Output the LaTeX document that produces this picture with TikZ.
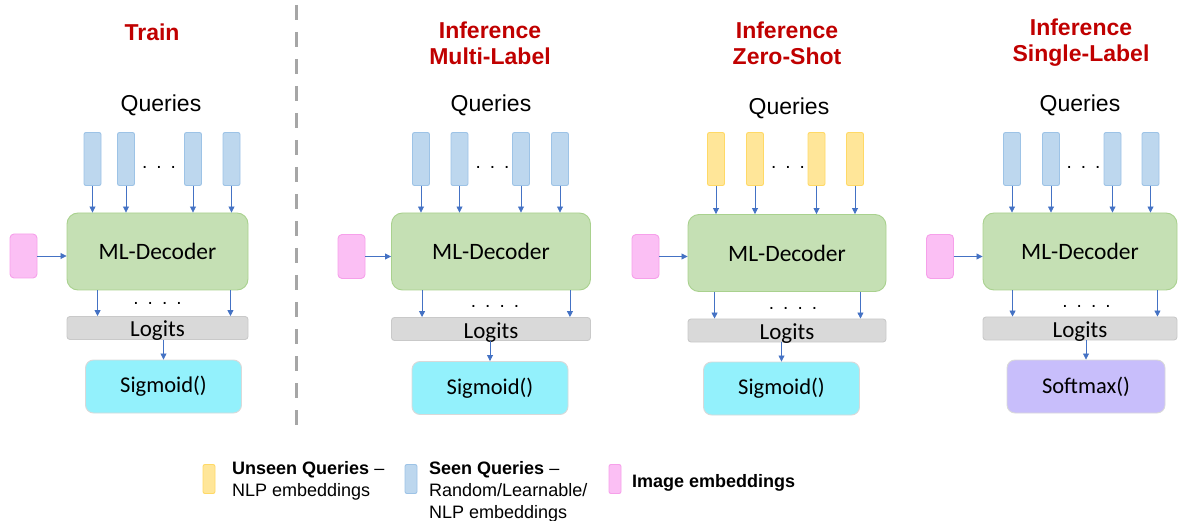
\documentclass[tikz,border=0pt]{standalone}
\usepackage{fontspec}
\setmainfont{Liberation Sans}
\newfontfamily\calfont{Carlito}
\usetikzlibrary{arrows.meta,positioning}
\definecolor{mlred}{HTML}{C00000}
\definecolor{mlarrow}{HTML}{4472C4}
\definecolor{qblue}{HTML}{BDD7EE}
\definecolor{qblueline}{HTML}{9DC3E6}
\definecolor{qyellow}{HTML}{FFE699}
\definecolor{qyellowline}{HTML}{FFD966}
\definecolor{decfill}{HTML}{C5E0B4}
\definecolor{decline}{HTML}{A9D18E}
\definecolor{embfill}{HTML}{FBBFF4}
\definecolor{embline}{HTML}{F6A0EA}
\definecolor{logfill}{HTML}{D9D9D9}
\definecolor{logline}{HTML}{C9C9C9}
\definecolor{sigfill}{HTML}{93F1FC}
\definecolor{softfill}{HTML}{C8BEFB}
\definecolor{actline}{HTML}{D9D9D9}
\definecolor{sepgray}{HTML}{A6A6A6}

\begin{document}
\begin{tikzpicture}[
    x=1pt, y=-1pt,
    qbox/.style={rectangle, rounded corners=2pt, minimum width=17pt,
                 minimum height=53pt, inner sep=0pt, line width=0.9pt},
    seen/.style={qbox, draw=qblueline, fill=qblue},
    unseen/.style={qbox, draw=qyellowline, fill=qyellow},
    emb/.style={rectangle, rounded corners=4pt, minimum width=27pt,
                minimum height=44pt, inner sep=0pt, line width=0.9pt,
                draw=embline, fill=embfill},
    dec/.style={rectangle, rounded corners=11pt, minimum height=77pt,
                inner sep=0pt, line width=0.9pt, draw=decline, fill=decfill,
                font=\fontsize{23.5}{28}\calfont},
    logit/.style={rectangle, rounded corners=3pt, minimum height=23pt,
                  inner sep=0pt, line width=0.9pt, draw=logline, fill=logfill,
                  text height=20pt, text depth=2pt,
                  font=\fontsize{23}{26}\calfont},
    act/.style={rectangle, rounded corners=8pt, minimum height=53pt,
                minimum width=156pt, inner sep=0pt, line width=0.9pt,
                draw=actline, font=\fontsize{22.5}{26}\calfont},
    ttl/.style={font=\fontsize{23}{26}\selectfont\bfseries, text=mlred,
                align=center},
    qlbl/.style={font=\fontsize{23}{26}\selectfont},
    dots/.style={font=\fontsize{19}{20}\selectfont, anchor=base, inner sep=0pt},
    leg/.style={font=\fontsize{18}{22}\selectfont, align=left, inner sep=0pt,
                anchor=north west},
    key/.style={minimum width=12pt, minimum height=29pt, rounded corners=2pt},
    arr/.style={-{Triangle[length=6pt,width=6pt]}, line width=0.8pt, mlarrow}
  ]
  \useasboundingbox (0,0) rectangle (1178,521);

  % ---- Separator ----
  \draw[sepgray, line width=3pt, dash pattern=on 15pt off 12pt] (296,5) -- (296,435);

  % ---- Panel 1: Train ----
  \node[ttl] (ttl1) at (152,32) {Train};
  \node[qlbl] (qry1) at (161,105) {Queries};
  \node[seen] (q1a) at (92.5,159) {};
  \node[seen] (q1b) at (126,159) {};
  \node[seen] (q1c) at (193,159) {};
  \node[seen] (q1d) at (231.5,159) {};
  \node[dots] (qd1) at (159,169) {.\hspace{9pt}.\hspace{9pt}.};
  \node[dec, minimum width=181pt] (dec1) at (157.5,251.5) {ML-Decoder};
  \node[emb] (emb1) at (23.5,256) {};
  \node[dots] (od1) at (157.5,305) {.\hspace{9pt}.\hspace{9pt}.\hspace{9pt}.};
  \node[logit, minimum width=181pt] (lg1) at (157.5,328) {Logits};
  \node[act, fill=sigfill] (act1) at (163.5,386.5) {Sigmoid()};
  \foreach \q in {a,b,c,d} \draw[arr] (q1\q) -- (q1\q |- dec1.north);
  \draw[arr] (emb1) -- (emb1 -| dec1.west);
  \draw[arr] ([xshift=31pt]dec1.south west) -- ([xshift=31pt]lg1.north west);
  \draw[arr] ([xshift=-18pt]dec1.south east) -- ([xshift=-18pt]lg1.north east);
  \draw[arr] (act1.north |- lg1.south) -- (act1);

  % ---- Panel 2: Inference Multi-Label ----
  \node[ttl] (ttl2) at (490,43) {Inference\\Multi-Label};
  \node[qlbl] (qry2) at (491,105) {Queries};
  \node[seen] (q2a) at (421,159) {};
  \node[seen] (q2b) at (459.5,159) {};
  \node[seen] (q2c) at (521,159) {};
  \node[seen] (q2d) at (560,159) {};
  \node[dots] (qd2) at (492.5,169) {.\hspace{9pt}.\hspace{9pt}.};
  \node[dec, minimum width=199pt] (dec2) at (491,251.5) {ML-Decoder};
  \node[emb] (emb2) at (351.5,256.5) {};
  \node[dots] (od2) at (495,308) {.\hspace{9pt}.\hspace{9pt}.\hspace{9pt}.};
  \node[logit, minimum width=199pt] (lg2) at (491,329) {Logits};
  \node[act, fill=sigfill] (act2) at (490,388) {Sigmoid()};
  \foreach \q in {a,b,c,d} \draw[arr] (q2\q) -- (q2\q |- dec2.north);
  \draw[arr] (emb2) -- (emb2 -| dec2.west);
  \draw[arr] ([xshift=31pt]dec2.south west) -- ([xshift=31pt]lg2.north west);
  \draw[arr] ([xshift=-21pt]dec2.south east) -- ([xshift=-21pt]lg2.north east);
  \draw[arr] (act2.north |- lg2.south) -- (act2);

  % ---- Panel 3: Inference Zero-Shot ----
  \node[ttl] (ttl3) at (787,43) {Inference\\Zero-Shot};
  \node[qlbl] (qry3) at (789,108) {Queries};
  \node[unseen] (q3a) at (716,159) {};
  \node[unseen] (q3b) at (755,159) {};
  \node[unseen] (q3c) at (816.5,159) {};
  \node[unseen] (q3d) at (855,159) {};
  \node[dots] (qd3) at (788,169) {.\hspace{9pt}.\hspace{9pt}.};
  \node[dec, minimum width=198pt] (dec3) at (787,253) {ML-Decoder};
  \node[emb] (emb3) at (645.5,256.5) {};
  \node[dots] (od3) at (793,309) {.\hspace{9pt}.\hspace{9pt}.\hspace{9pt}.};
  \node[logit, minimum width=198pt] (lg3) at (787,330.5) {Logits};
  \node[act, fill=sigfill] (act3) at (781.5,388.5) {Sigmoid()};
  \foreach \q in {a,b,c,d} \draw[arr] (q3\q) -- (q3\q |- dec3.north);
  \draw[arr] (emb3) -- (emb3 -| dec3.west);
  \draw[arr] ([xshift=27pt]dec3.south west) -- ([xshift=27pt]lg3.north west);
  \draw[arr] ([xshift=-26pt]dec3.south east) -- ([xshift=-26pt]lg3.north east);
  \draw[arr] (act3.north |- lg3.south) -- (act3);

  % ---- Panel 4: Inference Single-Label ----
  \node[ttl] (ttl4) at (1081,43) {Inference\\Single-Label};
  \node[qlbl] (qry4) at (1080,105) {Queries};
  \node[seen] (q4a) at (1012,159) {};
  \node[seen] (q4b) at (1051,159) {};
  \node[seen] (q4c) at (1112.5,159) {};
  \node[seen] (q4d) at (1150.5,159) {};
  \node[dots] (qd4) at (1083.5,169) {.\hspace{9pt}.\hspace{9pt}.};
  \node[dec, minimum width=194pt] (dec4) at (1080,251.5) {ML-Decoder};
  \node[emb] (emb4) at (940,256.5) {};
  \node[dots] (od4) at (1086.5,308) {.\hspace{9pt}.\hspace{9pt}.\hspace{9pt}.};
  \node[logit, minimum width=194pt] (lg4) at (1080,328.5) {Logits};
  \node[act, fill=softfill, minimum width=158pt] (act4) at (1086,386.5) {Softmax()};
  \foreach \q in {a,b,c,d} \draw[arr] (q4\q) -- (q4\q |- dec4.north);
  \draw[arr] (emb4) -- (emb4 -| dec4.west);
  \draw[arr] ([xshift=30pt]dec4.south west) -- ([xshift=30pt]lg4.north west);
  \draw[arr] ([xshift=-20pt]dec4.south east) -- ([xshift=-20pt]lg4.north east);
  \draw[arr] (act4.north |- lg4.south) -- (act4);

  % ---- Legend ----
  \node[unseen, key] (kunseen) at (209,479) {};
  \node[leg] (tunseen) at (232,461) {\textbf{Unseen Queries} --\\NLP embeddings};
  \node[seen, key] (kseen) at (411,479) {};
  \node[leg] (tseen) at (429,461) {\textbf{Seen Queries} --\\Random/Learnable/\\NLP embeddings};
  \node[emb, key] (kimg) at (615,479) {};
  \node[leg] (timg) at (632,474) {\textbf{Image embeddings}};

\end{tikzpicture}
\end{document}
